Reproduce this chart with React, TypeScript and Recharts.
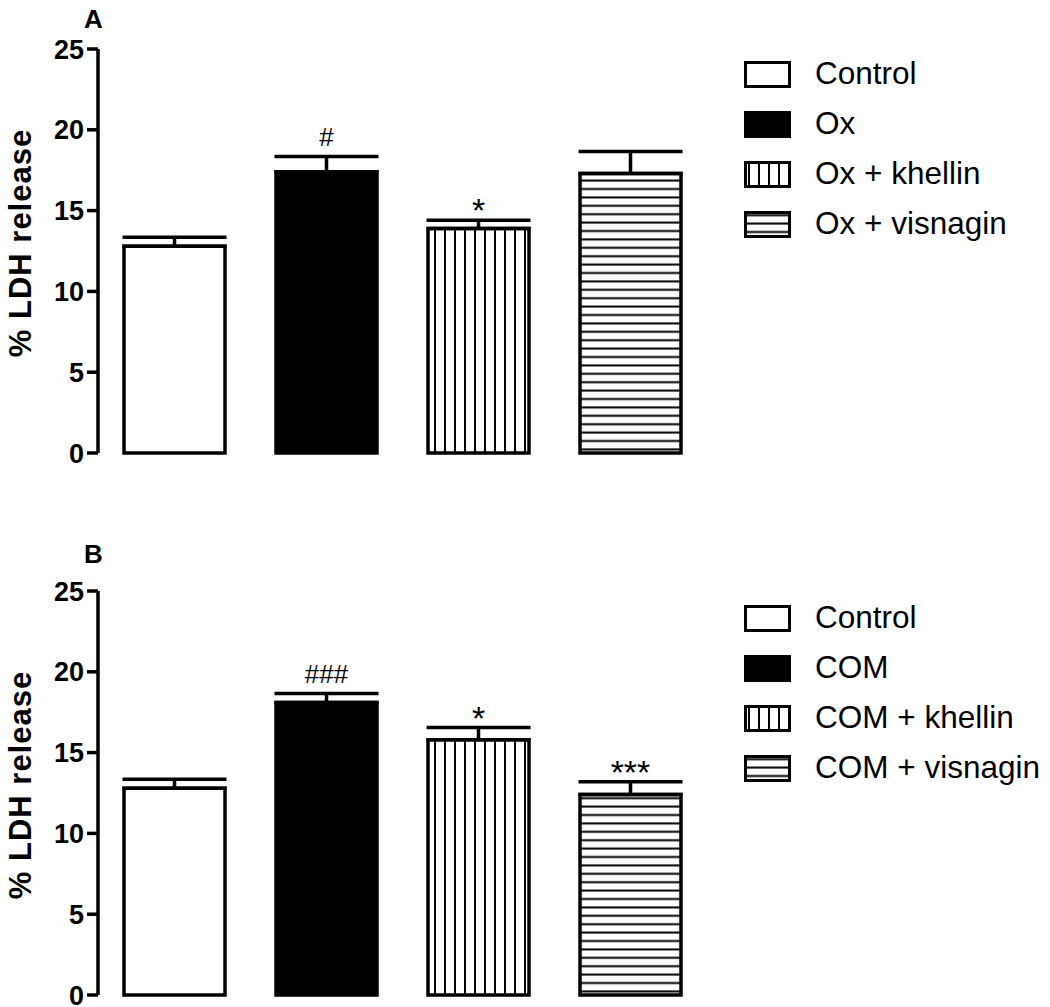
import React from 'react';
import { BarChart, Bar, XAxis, YAxis, Cell, ErrorBar, LabelList, Label, Legend } from 'recharts';

// Panel A: oxalate
const groupsA = ['Control', 'Ox', 'Ox + khellin', 'Ox + visnagin'];
const meansA = [12.8, 17.4, 13.9, 17.3];
const semA = [0.55, 0.95, 0.5, 1.35];
const marksA = ['', '#', '*', ''];

// Panel B: calcium oxalate monohydrate
const groupsB = ['Control', 'COM', 'COM + khellin', 'COM + visnagin'];
const meansB = [12.8, 18.1, 15.8, 12.4];
const semB = [0.55, 0.55, 0.75, 0.8];
const marksB = ['', '###', '*', '***'];

const yTicks = [0, 5, 10, 15, 20, 25];
const fills = ['#ffffff', '#000000', 'url(#vlines)', 'url(#hlines)'];

const FONT = '"Liberation Sans", Arial, Helvetica, sans-serif';

function buildRows(groups: string[], means: number[], sem: number[], marks: string[]) {
    return groups.map((name, i) => ({ name, value: means[i], err: [0, sem[i]], sem: sem[i], mark: marks[i] }));
}

function markRenderer(rows: any[]) {
    return (props: any) => {
        const vb = props.viewBox || props;
        const x = vb.x ?? props.x;
        const y = vb.y ?? props.y;
        const width = vb.width ?? props.width;
        const height = vb.height ?? props.height;
        const row = rows[props.index];
        if (!row || !row.mark) return null;
        const pxPerUnit = height / row.value;
        const capY = y - row.sem * pxPerUnit;
        const isHash = row.mark.includes('#');
        return (
            <text
                x={x + width / 2}
                y={capY + (isHash ? -10.5 : 2)}
                textAnchor="middle"
                fontSize={isHash ? 26 : 34}
                fontFamily={FONT}
                fill="#000"
            >
                {row.mark}
            </text>
        );
    };
}

function LegendSwatch({ index }: { index: number }) {
    return (
        <svg width={47} height={27} style={{ display: 'block' }}>
            <rect x={1.5} y={1.5} width={44} height={24} fill={fills[index]} stroke="#000" strokeWidth={3} />
        </svg>
    );
}

interface PanelProps {
    groups: string[];
    means: number[];
    sem: number[];
    marks: string[];
    height: number;
    legendTop: number;
    labelShift: number;
}

function Panel({ groups, means, sem, marks, height, legendTop, labelShift }: PanelProps) {
    const rows = buildRows(groups, means, sem, marks);
    return (
        <BarChart width={1050} height={height} data={rows} margin={{ top: 49, right: 344, left: 0, bottom: height - 453 }}>
            <XAxis dataKey="name" height={0} tick={false} tickLine={false} axisLine={{ stroke: '#000', strokeWidth: 3.5 }} />
            <YAxis
                width={98}
                domain={[0, 25]}
                ticks={yTicks}
                interval={0}
                tickSize={11}
                tickMargin={3}
                axisLine={{ stroke: '#000', strokeWidth: 3.5 }}
                tickLine={{ stroke: '#000', strokeWidth: 3.5 }}
                tick={{ fill: '#000', fontSize: 27, fontWeight: 'bold', fontFamily: FONT }}
            >
                <Label
                    content={(p: any) => {
                        const vb = p.viewBox;
                        const cy = vb.y + vb.height / 2 + labelShift;
                        return (
                            <text
                                x={31}
                                y={cy}
                                transform={`rotate(-90 31 ${cy})`}
                                textAnchor="middle"
                                fontSize={31}
                                fontWeight="bold"
                                letterSpacing={1}
                                fontFamily={FONT}
                                fill="#000"
                            >
                                % LDH release
                            </text>
                        );
                    }}
                />
            </YAxis>
            <Legend
                layout="vertical"
                align="center"
                verticalAlign="middle"
                wrapperStyle={{ position: 'absolute', left: 744, top: legendTop, width: 300, height: 210 }}
                content={() => (
                    <div style={{ fontFamily: FONT, fontSize: 31.5, color: '#000' }}>
                        {groups.map((g, i) => (
                            <div key={g} style={{ display: 'flex', alignItems: 'center', height: 50, marginTop: i === 0 ? -12 : 0 }}>
                                <LegendSwatch index={i} />
                                <span style={{ marginLeft: 24, lineHeight: 1 }}>{g}</span>
                            </div>
                        ))}
                    </div>
                )}
            />
            <Bar dataKey="value" barSize={101} isAnimationActive={false} stroke="#000" strokeWidth={3.5}>
                {rows.map((r, i) => (
                    <Cell key={`cell-${i}`} fill={fills[i]} stroke="#000" strokeWidth={3.5} />
                ))}
                <ErrorBar dataKey="err" width={52} stroke="#000" strokeWidth={3.5} direction="y" isAnimationActive={false} />
                <LabelList dataKey="mark" content={markRenderer(rows)} />
            </Bar>
        </BarChart>
    );
}

export default function App() {
    return (
        <div style={{ position: 'absolute', left: 0, top: 0, width: 1050, height: 1007, background: '#fff', overflow: 'hidden' }}>
            {/* shared fill patterns */}
            <svg width={0} height={0} style={{ position: 'absolute' }}>
                <defs>
                    <pattern id="vlines" patternUnits="userSpaceOnUse" width={10} height={10}>
                        <rect width={10} height={10} fill="#fff" />
                        <line x1={5} y1={0} x2={5} y2={10} stroke="#000" strokeWidth={2} />
                    </pattern>
                    <pattern id="hlines" patternUnits="userSpaceOnUse" width={10} height={8.4}>
                        <rect width={10} height={8.4} fill="#fff" />
                        <line x1={0} y1={4.2} x2={10} y2={4.2} stroke="#000" strokeWidth={2} />
                    </pattern>
                </defs>
            </svg>

            <div style={{ position: 'absolute', left: 0, top: 0 }}>
                <Panel groups={groupsA} means={meansA} sem={semA} marks={marksA} height={542} legendTop={61} labelShift={-8} />
            </div>
            <div style={{ position: 'absolute', left: 0, top: 542 }}>
                <Panel groups={groupsB} means={meansB} sem={semB} marks={marksB} height={465} legendTop={63} labelShift={-8} />
            </div>

            <div style={{ position: 'absolute', left: 84, top: 4, fontFamily: FONT, fontSize: 26, fontWeight: 'bold', lineHeight: '30px' }}>A</div>
            <div style={{ position: 'absolute', left: 84, top: 539, fontFamily: FONT, fontSize: 26, fontWeight: 'bold', lineHeight: '30px' }}>B</div>
        </div>
    );
}
